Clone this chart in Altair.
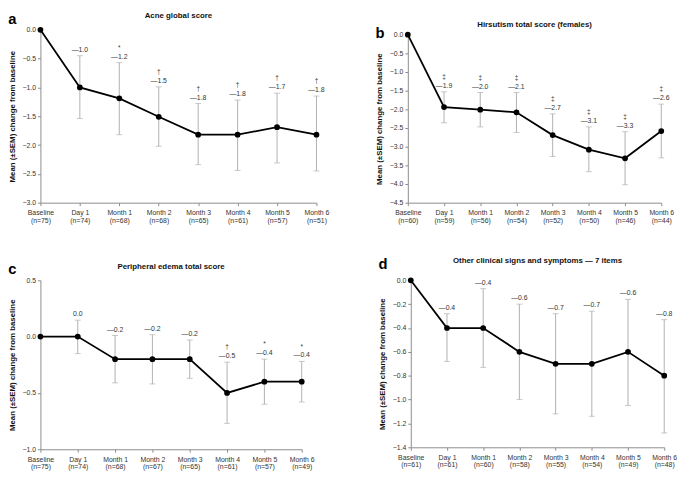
import altair as alt
import pandas as pd

FONT = "Liberation Sans"
CATS = ["Baseline", "Day 1", "Month 1", "Month 2", "Month 3", "Month 4", "Month 5", "Month 6"]
YTITLE = "Mean (±SEM) change from baseline"

# Panel a - Acne global score
a_n = [75, 74, 68, 68, 65, 61, 57, 51]
a_mean = [0.0, -1.0, -1.19, -1.51, -1.82, -1.82, -1.69, -1.82]
a_hi = [None, -0.45, -0.57, -0.99, -1.28, -1.22, -1.10, -1.15]
a_lo = [None, -1.54, -1.82, -2.02, -2.34, -2.44, -2.31, -2.45]
a_lab = ["", "—1.0", "—1.2", "—1.5", "—1.8", "—1.8", "—1.7", "—1.8"]
a_sig = ["", "", "*", "†", "†", "†", "†", "†"]
a_ticks = [0.0, -0.5, -1.0, -1.5, -2.0, -2.5, -3.0]

# Panel b - Hirsutism total score (females)
b_n = [60, 59, 56, 54, 52, 50, 46, 44]
b_mean = [0.0, -1.94, -2.01, -2.08, -2.69, -3.08, -3.31, -2.58]
b_hi = [None, -1.53, -1.55, -1.55, -2.12, -2.47, -2.60, -1.86]
b_lo = [None, -2.36, -2.47, -2.62, -3.26, -3.67, -4.02, -3.30]
b_lab = ["", "—1.9", "—2.0", "—2.1", "—2.7", "—3.1", "—3.3", "—2.6"]
b_sig = ["", "‡", "‡", "‡", "‡", "‡", "‡", "‡"]
b_ticks = [0.0, -0.5, -1.0, -1.5, -2.0, -2.5, -3.0, -3.5, -4.0, -4.5]

# Panel c - Peripheral edema total score
c_n = [75, 74, 68, 67, 65, 61, 57, 49]
c_mean = [0.0, 0.0, -0.2, -0.2, -0.2, -0.5, -0.4, -0.4]
c_hi = [None, 0.146, 0.01, 0.017, -0.03, -0.227, -0.2, -0.22]
c_lo = [None, -0.151, -0.41, -0.42, -0.37, -0.77, -0.6, -0.58]
c_lab = ["", "0.0", "—0.2", "—0.2", "—0.2", "—0.5", "—0.4", "—0.4"]
c_sig = ["", "", "", "", "", "†", "*", "*"]
c_ticks = [0.5, 0.0, -0.5, -1.0]

# Panel d - Other clinical signs and symptoms
d_n = [61, 61, 60, 58, 55, 54, 49, 48]
d_mean = [0.0, -0.4, -0.4, -0.6, -0.7, -0.7, -0.6, -0.8]
d_hi = [None, -0.28, -0.07, -0.20, -0.28, -0.26, -0.16, -0.33]
d_lo = [None, -0.68, -0.73, -1.00, -1.12, -1.14, -1.05, -1.28]
d_lab = ["", "—0.4", "—0.4", "—0.6", "—0.7", "—0.7", "—0.6", "—0.8"]
d_sig = ["", "", "", "", "", "", "", ""]
d_ticks = [0.0, -0.2, -0.4, -0.6, -0.8, -1.0, -1.2, -1.4]


def panel(letter, title, n, mean, hi, lo, lab, sig, ticks, width, height, top=0, tdy=0):
    xl = [f"{c}|(n={k})" for c, k in zip(CATS, n)]
    df = pd.DataFrame({"x": xl, "mean": mean, "hi": hi, "lo": lo, "lab": lab, "sig": sig})
    bars = df.iloc[1:]
    xenc = alt.X(
        "x:N",
        sort=xl,
        scale=alt.Scale(type="point", padding=0),
        axis=alt.Axis(
            title=None,
            labelAngle=0,
            labelExpr="split(datum.label, '|')",
            labelOverlap=False,
            labelPadding=3,
            labelLineHeight=8,
        ),
    )
    if top:
        yscale = alt.Scale(domain=[min(ticks), max(ticks)], nice=False, zero=False, range=[height, top])
    else:
        yscale = alt.Scale(domain=[min(ticks), max(ticks)], nice=False, zero=False)
    yaxis = alt.Axis(
        title=YTITLE,
        values=ticks,
        labelExpr="replace(format(datum.value, '.1f'), '-', '—')",
        titlePadding=6,
    )

    def Y(field):
        return alt.Y(f"{field}:Q", scale=yscale, axis=yaxis)

    base_b = alt.Chart(bars)
    rule = base_b.mark_rule(color="#b0b0b0", strokeWidth=1).encode(x=xenc, y=Y("hi"), y2="lo:Q")
    cap_hi = base_b.mark_tick(color="#b0b0b0", size=6, thickness=1, orient="horizontal").encode(x=xenc, y=Y("hi"))
    cap_lo = base_b.mark_tick(color="#b0b0b0", size=6, thickness=1, orient="horizontal").encode(x=xenc, y=Y("lo"))
    base = alt.Chart(df)
    line = base.mark_line(color="black", strokeWidth=1.8).encode(x=xenc, y=Y("mean"))
    pts = base.mark_circle(color="black", size=34, opacity=1).encode(x=xenc, y=Y("mean"))
    vlab = base_b.mark_text(dy=-6, fontSize=7, color="#333333", font=FONT).encode(
        x=xenc, y=Y("hi"), text="lab:N")
    slab = base_b.mark_text(dy=-15, fontSize=6.5, color="#333333", font=FONT).encode(
        x=xenc, y=Y("hi"), text="sig:N")
    inner = alt.layer(rule, cap_hi, cap_lo, line, pts, vlab, slab).properties(
        width=width,
        height=height,
        title=alt.Title(title, fontSize=8, fontWeight="bold", font=FONT, anchor="middle",
                        offset=6, dy=tdy, color="#111111"),
    )
    return alt.vconcat(
        inner,
        title=alt.Title(letter, fontSize=15, fontWeight="bold", font=FONT, anchor="start",
                        offset=-15, dy=tdy, color="black"),
    )


A = panel("a", "Acne global score", a_n, a_mean, a_hi, a_lo, a_lab, a_sig, a_ticks, 281, 176)
B = panel("b", "Hirsutism total score (females)", b_n, b_mean, b_hi, b_lo, b_lab, b_sig, b_ticks, 258, 176,
          top=5, tdy=5)
C = panel("c", "Peripheral edema total score", c_n, c_mean, c_hi, c_lo, c_lab, c_sig, c_ticks, 266, 172)
D = panel("d", "Other clinical signs and symptoms — 7 items", d_n, d_mean, d_hi, d_lo, d_lab, d_sig, d_ticks, 258, 170)

chart = alt.vconcat(
    alt.hconcat(A, B, spacing=47),
    alt.hconcat(C, D, spacing=65),
    spacing=34,
).properties(padding=0).configure(font=FONT).configure_view(stroke=None).configure_axis(
    grid=False,
    domainColor="#8c8c8c",
    tickColor="#8c8c8c",
    tickSize=3,
    labelFontSize=7,
    labelColor="#333333",
    labelFont=FONT,
    titleFont=FONT,
    titleFontSize=8,
    titleFontWeight="bold",
    titleColor="#111111",
)

chart.save("out.html", embed_options={"renderer": "svg", "actions": False})
